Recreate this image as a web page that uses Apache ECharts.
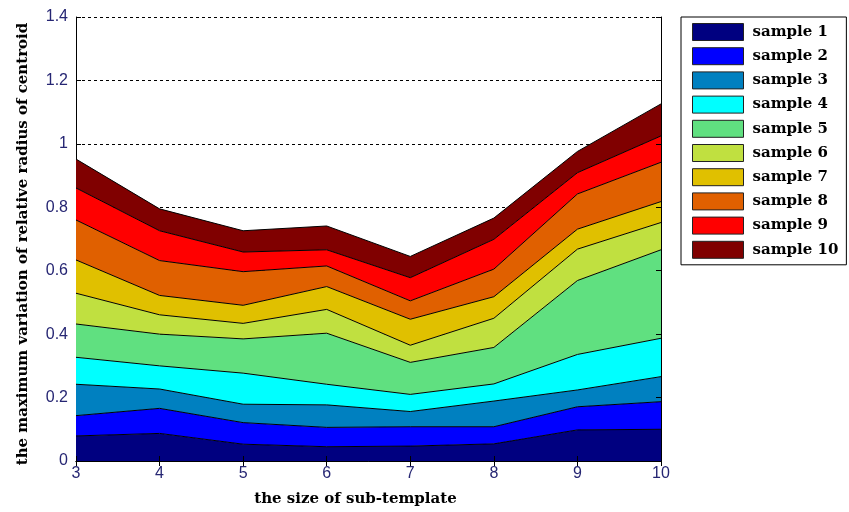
<!DOCTYPE html>
<html>
<head>
<meta charset="utf-8">
<script src="https://cdn.jsdelivr.net/npm/echarts@6/dist/echarts.min.js"></script>
<style>
html, body { margin: 0; padding: 0; background: #fff; }
#main { width: 849px; height: 512px; }
</style>
</head>
<body>
<div id="main"></div>
<script>
// x categories (size of sub-template)
var sizes = ['3', '4', '5', '6', '7', '8', '9', '10'];
var names = ['sample 1', 'sample 2', 'sample 3', 'sample 4', 'sample 5',
             'sample 6', 'sample 7', 'sample 8', 'sample 9', 'sample 10'];
// jet colormap, 10 steps
var colors = ['#000080', '#0000ff', '#0080c0', '#00ffff', '#60e080',
              '#c0e040', '#e0c000', '#e06000', '#ff0000', '#800000'];

// per-sample values (stacked)
var s1  = [0.079, 0.087, 0.053, 0.045, 0.047, 0.054, 0.098, 0.100];
var s2  = [0.064, 0.079, 0.068, 0.061, 0.061, 0.054, 0.073, 0.087];
var s3  = [0.099, 0.061, 0.058, 0.071, 0.048, 0.081, 0.053, 0.079];
var s4  = [0.085, 0.073, 0.098, 0.065, 0.054, 0.054, 0.112, 0.121];
var s5  = [0.105, 0.100, 0.108, 0.161, 0.101, 0.115, 0.233, 0.279];
var s6  = [0.097, 0.061, 0.049, 0.075, 0.054, 0.092, 0.099, 0.086];
var s7  = [0.105, 0.061, 0.057, 0.072, 0.082, 0.068, 0.063, 0.066];
var s8  = [0.126, 0.110, 0.106, 0.065, 0.058, 0.087, 0.111, 0.124];
var s9  = [0.101, 0.094, 0.062, 0.051, 0.073, 0.094, 0.067, 0.083];
var s10 = [0.091, 0.069, 0.067, 0.075, 0.067, 0.067, 0.067, 0.101];
var values = [s1, s2, s3, s4, s5, s6, s7, s8, s9, s10];

var labelColor = '#262673';
var titleFont = 'DejaVu Serif';

var series = [];
for (var i = 0; i < values.length; i++) {
    series.push({
        name: names[i],
        type: 'line',
        stack: 'total',
        symbol: 'none',
        data: values[i],
        lineStyle: { color: '#000', width: 1 },
        itemStyle: { color: colors[i], borderColor: '#000', borderWidth: 1 },
        areaStyle: { color: colors[i], opacity: 1 },
        z: 2
    });
}

var myChart = echarts.init(document.getElementById('main'));
var option = {
    animation: false,
    backgroundColor: '#fff',
    grid: { left: 76, right: 188, top: 17, bottom: 51 },
    legend: {
        orient: 'vertical',
        left: 681,
        top: 17,
        padding: [6, 8, 6, 11],
        icon: 'rect',
        itemWidth: 51,
        itemHeight: 17,
        itemGap: 6.2,
        borderColor: '#000',
        borderWidth: 1,
        itemStyle: { borderColor: '#222', borderWidth: 1 },
        textStyle: {
            fontFamily: titleFont, fontWeight: 'bold', fontSize: 15, color: '#000',
            lineHeight: 17, padding: [0, 0, 0, 4]
        },
        data: names
    },
    xAxis: [
        {
            type: 'category',
            data: sizes,
            boundaryGap: false,
            name: 'the size of sub-template',
            nameLocation: 'middle',
            nameGap: 31,
            nameTextStyle: {
                fontFamily: titleFont, fontWeight: 'bold', fontSize: 15, color: '#000',
                padding: [0, 26, 0, 0]
            },
            axisLine: { lineStyle: { color: '#000', width: 1 } },
            axisTick: { inside: true, length: 5, lineStyle: { color: '#000' } },
            axisLabel: { fontFamily: 'Liberation Sans', fontSize: 16, color: labelColor, margin: 5 },
            splitLine: { show: false },
            z: 5
        },
        {
            type: 'category',
            data: sizes,
            boundaryGap: false,
            position: 'top',
            axisLine: { lineStyle: { color: '#000', width: 1 } },
            axisTick: { inside: true, length: 5, lineStyle: { color: '#000' } },
            axisLabel: { show: false },
            splitLine: { show: false },
            z: 5
        }
    ],
    yAxis: [
        {
            type: 'value',
            min: 0,
            max: 1.4,
            interval: 0.2,
            name: 'the maximum variation of relative radius of centroid',
            nameLocation: 'middle',
            nameGap: 45,
            nameTextStyle: {
                fontFamily: titleFont, fontWeight: 'bold', fontSize: 15, color: '#000',
                padding: [0, 10, 0, 0]
            },
            axisLine: { show: true, lineStyle: { color: '#000', width: 1 } },
            axisTick: { show: true, inside: true, length: 5, lineStyle: { color: '#000' } },
            axisLabel: { fontFamily: 'Liberation Sans', fontSize: 16, color: labelColor, margin: 8 },
            splitLine: { show: true, lineStyle: { color: '#000', type: [3, 3], width: 1 } },
            z: 1
        },
        {
            type: 'value',
            min: 0,
            max: 1.4,
            interval: 0.2,
            position: 'right',
            axisLine: { show: true, lineStyle: { color: '#000', width: 1 } },
            axisTick: { show: true, inside: true, length: 5, lineStyle: { color: '#000' } },
            axisLabel: { show: false },
            splitLine: { show: false },
            z: 5
        }
    ],
    series: series
};
myChart.setOption(option);
</script>
</body>
</html>
